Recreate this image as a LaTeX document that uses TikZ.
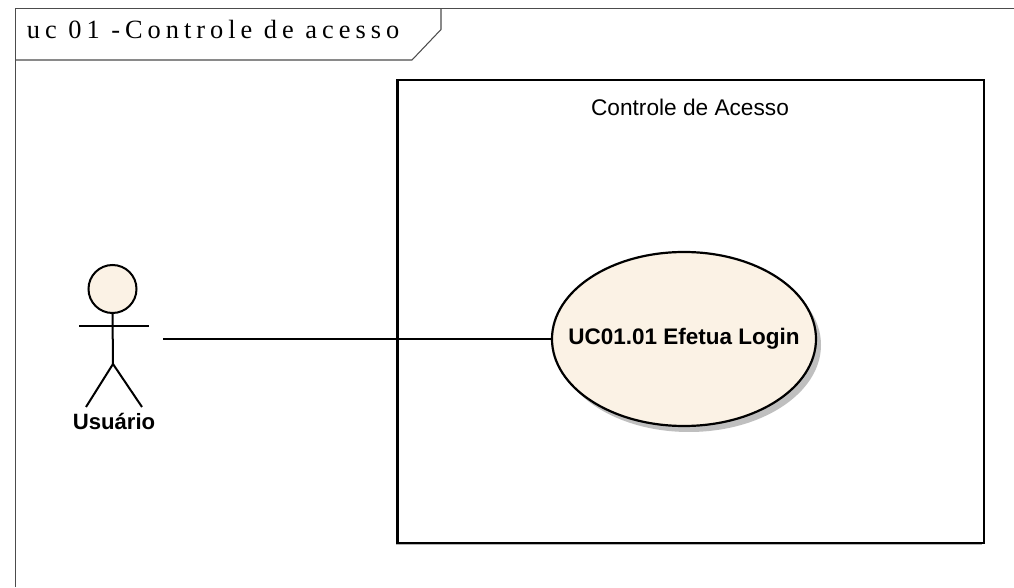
\documentclass[tikz,border=0pt]{standalone}
\usepackage{fontspec}
\setmainfont{Liberation Sans}
\newfontfamily\framefont[LetterSpace=19]{Liberation Serif}
\usetikzlibrary{shapes,shadows}
\definecolor{usecasefill}{RGB}{251,242,229}
\tikzset{
  framedge/.style={draw=black!70,line width=.6pt},
  stickline/.style={line width=1.14pt},
  usecase/.style={ellipse,draw,line width=1.25pt,fill=usecasefill,minimum width=5.28cm,minimum height=3.48cm,inner sep=0pt,
    drop shadow={shadow xshift=.1cm,shadow yshift=-.12cm,fill=black!25,opacity=1}},
  sysbox/.style={rectangle,draw,fill=white,line width=1.5pt,minimum width=11.73cm,minimum height=9.26cm,inner sep=0pt,
    drop shadow={shadow xshift=-.04cm,shadow yshift=-.04cm,fill=black!30,opacity=1}},
}
\begin{document}
\begin{tikzpicture}
\useasboundingbox (0,0) rectangle (20.28,11.74);
% frame
\draw[framedge] (0.31,0) -- (0.31,11.57) -- (20.28,11.57);
\draw[framedge] (0.31,10.54) -- (8.24,10.54) -- (8.82,11.15) -- (8.82,11.57);
\node[anchor=west,inner sep=0pt] (title) at (0.53,11.16) {\framefont\fontsize{15pt}{17pt}\selectfont uc 01 -Controle de acesso};
% system
\node[sysbox] (system) at (13.815,5.51) {};
\node (systitle) at (13.8,9.6) {\fontsize{12.9pt}{15pt}\selectfont Controle de Acesso};
% use case
\node[usecase] (login) at (13.68,4.96) {};
\node (logintext) at (13.68,4.96) {\fontsize{12.8pt}{15pt}\selectfont\bfseries UC01.01 Efetua Login};
% actor
\node[circle,draw,stickline,fill=usecasefill,minimum size=.96cm,inner sep=0pt] (head) at (2.25,5.96) {};
\coordinate (hip) at (2.26,4.46);
\coordinate (armleft) at (1.58,5.22);
\coordinate (armright) at (2.98,5.22);
\coordinate (footleft) at (1.72,3.6);
\coordinate (footright) at (2.84,3.6);
\draw[stickline] (head.south) -- (hip);
\draw[stickline] (armleft) -- (armright);
\draw[stickline] (footleft) -- (hip) -- (footright);
\node (actor) at (2.28,3.32) {\fontsize{12.6pt}{15pt}\selectfont\bfseries Usuário};
% association
\coordinate (assoc) at (3.26,4.96);
\draw[stickline] (assoc) -- (login.west);
\end{tikzpicture}
\end{document}
